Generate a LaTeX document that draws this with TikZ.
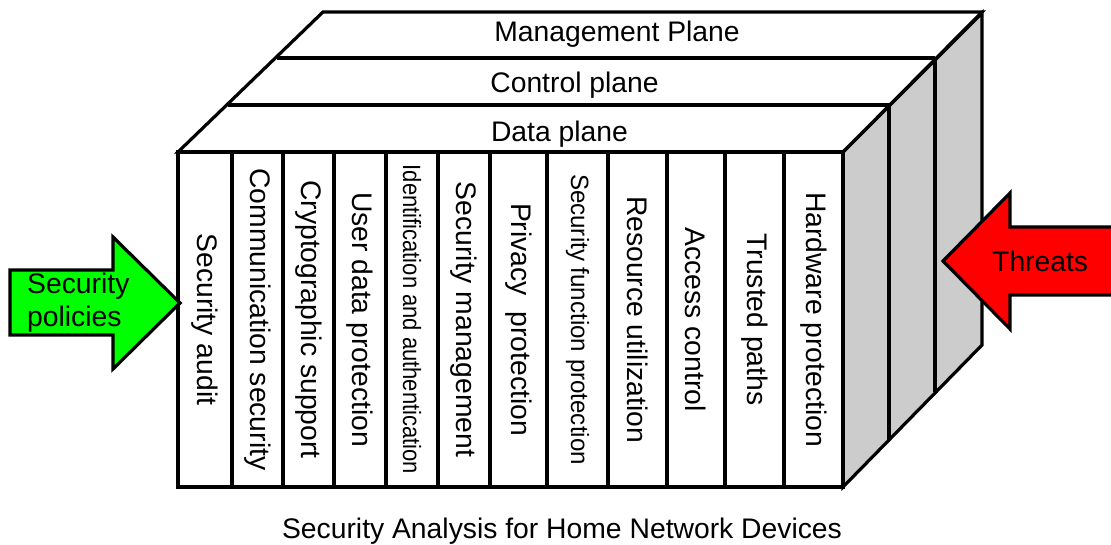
\documentclass[tikz,border=0pt]{standalone}
\usepackage{fontspec}
\setmainfont{Liberation Sans}
\begin{document}
\begin{tikzpicture}[x=1pt,y=-1pt,
  lw/.style={line width=3.2pt},
  col/.style={draw,lw,rotate=-90,minimum width=335pt,inner sep=0pt,font=\fontsize{28.3}{34}\selectfont},
  lbl/.style={inner sep=0pt,font=\fontsize{28.3}{34}\selectfont},
  side/.style={fill=black!20,draw,lw},
  face/.style={fill=white,draw,lw},
  arrowshape/.style={draw,line width=3.2pt,line join=miter}]
\useasboundingbox (0,0) rectangle (1111,545);
% side faces
\path[side] (843,152) -- (982,13) -- (982,345) -- (843,487) -- cycle;
\draw[lw] (889,106) -- (889,440);
\draw[lw] (935,59) -- (935,392);
% top faces
\path[face] (178,152) -- (323,12) -- (982,12) -- (843,152) -- cycle;
\draw[lw] (228,105) -- (889,105);
\draw[lw] (277,58) -- (935,58);
\node[lbl,anchor=base] (mgmt) at (617,42) {Management Plane};
\node[lbl,anchor=base] (ctrl) at (574.5,93) {Control plane};
\node[lbl,anchor=base] (data) at (559.5,142) {Data plane};
% front columns
\node[col,minimum height=54pt] (c1) at (205,319.5) {Security audit};
\node[col,minimum height=51pt] (c2) at (257.5,319.5) {Communication security};
\node[col,minimum height=51pt] (c3) at (308.5,319.5) {Cryptographic support};
\node[col,minimum height=52pt] (c4) at (360,319.5) {User data protection};
\node[col,minimum height=52pt,font=\fontsize{25}{30}\selectfont] (c5) at (412,319.5) {\scalebox{0.88}[1]{Identification and authentication}};
\node[col,minimum height=52pt] (c6) at (464,319.5) {Security management};
\node[col,minimum height=57pt] (c7) at (518.5,319.5) {Privacy\ \ protection};
\node[col,minimum height=61pt,font=\fontsize{25}{30}\selectfont] (c8) at (577.5,319.5) {\scalebox{0.965}[1]{Security function protection}};
\node[col,minimum height=59pt] (c9) at (637.5,319.5) {Resource utilization};
\node[col,minimum height=58pt] (c10) at (696,319.5) {Access control};
\node[col,minimum height=59pt] (c11) at (754.5,319.5) {Trusted paths};
\node[col,minimum height=59pt] (c12) at (813.5,319.5) {Hardware protection};
% arrows
\path[arrowshape,fill=green] (10,270) -- (113,270) -- (113,237) -- (180,303) -- (113,369) -- (113,335) -- (10,335) -- cycle;
\node[lbl,anchor=west,align=left] (pol) at (27,303) {Security\\[-1pt]policies};
\path[arrowshape,fill=red] (1125,227) -- (1010,227) -- (1010,193) -- (943,261) -- (1010,329) -- (1010,295) -- (1125,295) -- cycle;
\node[lbl,anchor=base west] (thr) at (992,272) {Threats};
% caption
\node[lbl,anchor=base] (cap) at (562,538) {Security Analysis for Home Network Devices};
\end{tikzpicture}
\end{document}
